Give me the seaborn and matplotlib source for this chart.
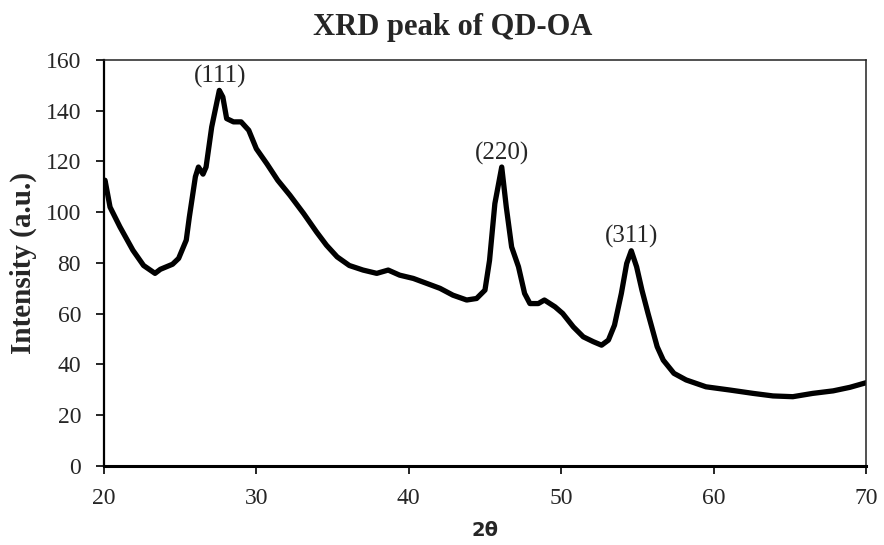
import seaborn as sns
import matplotlib.pyplot as plt
import pandas as pd

# XRD PATTERN OF QD-OA
two_theta = [20.0, 20.07, 20.4, 21.05, 21.9, 22.6, 23.35, 23.7, 24.1, 24.5, 24.9, 25.4, 25.6, 26.0, 26.2,
             26.5, 26.7, 27.07, 27.57, 27.8, 28.05, 28.5, 29.0, 29.5, 30.0, 30.7, 31.4, 32.2, 33.1,
             33.95, 34.6, 35.3, 36.1, 37.0, 37.9, 38.65, 39.4, 40.3, 41.2, 42.05, 42.9, 43.8, 44.45,
             45.0, 45.3, 45.65, 46.1, 46.4, 46.75, 47.2, 47.6, 47.95, 48.5, 48.9, 49.6, 50.1, 50.8,
             51.45, 52.1, 52.65, 53.1, 53.5, 53.95, 54.3, 54.6, 54.95, 55.3, 55.7, 56.3, 56.7, 57.4,
             58.2, 59.5, 61.1, 62.6, 63.9, 65.2, 66.5, 67.85, 68.95, 70.0]
intensity = [112.0, 112.6, 102.0, 94.2, 85.0, 79.0, 75.9, 77.5, 78.5, 79.5, 81.8, 89.0, 98.0, 114.0, 117.8,
             115.0, 117.8, 133.6, 148.0, 145.4, 136.9, 135.6, 135.6, 132.3, 125.0, 119.0, 112.6, 106.7, 99.5,
             92.2, 87.0, 82.4, 79.0, 77.2, 75.9, 77.2, 75.2, 73.9, 71.9, 70.0, 67.3, 65.4, 66.0,
             69.3, 81.0, 103.4, 117.8, 102.0, 86.3, 78.5, 68.0, 64.0, 64.0, 65.4, 62.7, 60.1, 54.8,
             50.9, 49.0, 47.6, 49.6, 55.5, 68.0, 79.8, 84.8, 78.5, 69.3, 60.1, 47.0, 41.7, 36.5,
             33.9, 31.2, 29.9, 28.6, 27.6, 27.3, 28.6, 29.6, 31.0, 32.8]

peak_labels = ['(111)', '(220)', '(311)']
peak_x = [27.6, 46.1, 54.6]
peak_y = [148.0, 117.8, 84.8]

df = pd.DataFrame({'two_theta': two_theta, 'intensity': intensity})

sns.set_style('ticks')
plt.rcParams['font.family'] = ['Liberation Serif', 'DejaVu Serif']

fig = plt.figure(figsize=(8.84, 5.45), dpi=100)
ax = fig.add_axes([0.1176, 0.145, 0.862, 0.745])

sns.lineplot(data=df, x='two_theta', y='intensity', color='black', linewidth=3.8, ax=ax, sort=False)

# PEAK LABELS
for lab, px, py in zip(peak_labels, peak_x, peak_y):
    ax.text(px, py + 1.0, lab, ha='center', va='bottom', fontsize=18)

ax.set_xlim(20, 70)
ax.set_ylim(0, 160)
ax.set_xticks(range(20, 71, 10))
ax.set_yticks(range(0, 161, 20))
ax.tick_params(axis='both', direction='out', length=5.5, width=1.2, labelsize=17, color='black')
ax.tick_params(axis='x', pad=10)
ax.tick_params(axis='y', pad=11)

for side in ['top', 'right']:
    ax.spines[side].set_visible(True)
    ax.spines[side].set_linewidth(1.1)
    ax.spines[side].set_color('#222222')
ax.spines['left'].set_linewidth(1.6)
ax.spines['bottom'].set_linewidth(2.2)
ax.spines['left'].set_color('black')
ax.spines['bottom'].set_color('black')

ax.set_title('XRD peak of QD-OA', fontsize=22, fontweight='bold', pad=18, x=0.458)
ax.set_ylabel('Intensity (a.u.)', fontsize=21, fontweight='bold', labelpad=6)
ax.set_xlabel('2θ', fontsize=14, fontweight='bold', family='DejaVu Sans', labelpad=9)

fig.savefig('out.png', dpi=100)
